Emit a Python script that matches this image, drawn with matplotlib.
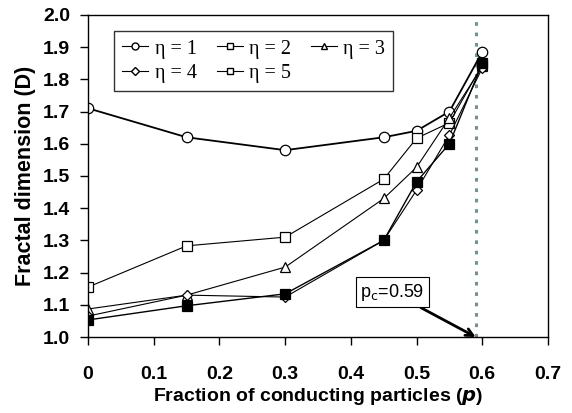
import matplotlib.pyplot as plt

# -------------------------
# Data
# -------------------------
p = [0, 0.15, 0.3, 0.45, 0.5, 0.55, 0.6]

eta1 = [1.71, 1.62, 1.58, 1.62, 1.64, 1.70, 1.885]
eta2 = [1.155, 1.283, 1.31, 1.49, 1.617, 1.665, 1.845]
eta3 = [1.087, 1.13, 1.217, 1.43, 1.527, 1.68, 1.84]
eta4 = [1.065, 1.13, 1.124, 1.30, 1.456, 1.627, 1.835]
eta5 = [1.053, 1.097, 1.134, 1.30, 1.482, 1.60, 1.85]

labels = ["η = 1", "η = 2", "η = 3", "η = 4", "η = 5"]
pc = 0.59

# -------------------------
# Plot
# -------------------------
plt.rcParams['font.family'] = ['Liberation Sans', 'DejaVu Sans']

fig = plt.figure(figsize=(5.72, 4.13), dpi=100)
ax = fig.add_axes([0.154, 0.184, 0.804, 0.78])

ax.axvline(pc, color='#6f9494', linestyle=(0, (1.2, 2.2)), linewidth=2.2, zorder=1)

common = dict(color='black', markersize=7.5, markeredgewidth=0.9)
l1, = ax.plot(p, eta1, marker='o', markerfacecolor='white', linewidth=1.3, **common)
l2, = ax.plot(p, eta2, marker='s', markerfacecolor='white', linewidth=0.8, **common)
l3, = ax.plot(p, eta3, marker='^', markerfacecolor='white', linewidth=0.8, **common)
l4, = ax.plot(p, eta4, marker='D', markerfacecolor='white', linewidth=0.8,
              color='black', markersize=5.5, markeredgewidth=0.9)
l5, = ax.plot(p, eta5, marker='s', markerfacecolor='black', linewidth=1.0, **common)

# legend shows open markers for all series
h1, = ax.plot([], [], marker='o', mfc='white', color='black', ms=5, lw=0.8)
h2, = ax.plot([], [], marker='s', mfc='white', color='black', ms=5, lw=0.8)
h3, = ax.plot([], [], marker='^', mfc='white', color='black', ms=5, lw=0.8)
h4, = ax.plot([], [], marker='D', mfc='white', color='black', ms=4, lw=0.8)
h5, = ax.plot([], [], marker='s', mfc='white', color='black', ms=5, lw=0.8)

leg = ax.legend(
    [h1, h4, h2, h5, h3],
    [labels[0], labels[3], labels[1], labels[4], labels[2]],
    ncol=3,
    loc='upper left',
    bbox_to_anchor=(0.035, 0.98),
    prop={'family': 'Liberation Serif', 'size': 14.5},
    frameon=True,
    fancybox=False,
    edgecolor='black',
    handlelength=1.3,
    handletextpad=0.3,
    columnspacing=1.0,
    labelspacing=0.25,
    borderpad=0.4,
)
leg.get_frame().set_linewidth(1.0)

ax.annotate(
    "p$_\\mathrm{c}$=0.59",
    xy=(pc, 1.0),
    xytext=(0.414, 1.125),
    fontsize=13,
    bbox=dict(boxstyle='square,pad=0.25', fc='white', ec='black', lw=0.8),
    arrowprops=dict(arrowstyle='->', color='black', lw=2.0, shrinkA=0, shrinkB=0),
)

ax.set_xlim(0, 0.7)
ax.set_ylim(1.0, 2.0)
ax.set_xticks([0, 0.1, 0.2, 0.3, 0.4, 0.5, 0.6, 0.7])
ax.set_xticklabels(["0", "0.1", "0.2", "0.3", "0.4", "0.5", "0.6", "0.7"])
ax.set_yticks([1.0, 1.1, 1.2, 1.3, 1.4, 1.5, 1.6, 1.7, 1.8, 1.9, 2.0])

ax.tick_params(direction='out', length=6, width=1, labelsize=14)
ax.tick_params(axis='x', pad=15)
ax.tick_params(axis='y', pad=7)
for lab in ax.get_xticklabels() + ax.get_yticklabels():
    lab.set_fontweight('bold')
for s in ax.spines.values():
    s.set_linewidth(1.0)

ax.set_xlabel("Fraction of conducting particles ($\\boldsymbol{p}$)", fontsize=14,
              fontweight='bold', labelpad=2)
ax.set_ylabel("Fractal dimension (D)", fontsize=15.5, fontweight='bold', labelpad=5)

fig.savefig("out.png", dpi=100)
